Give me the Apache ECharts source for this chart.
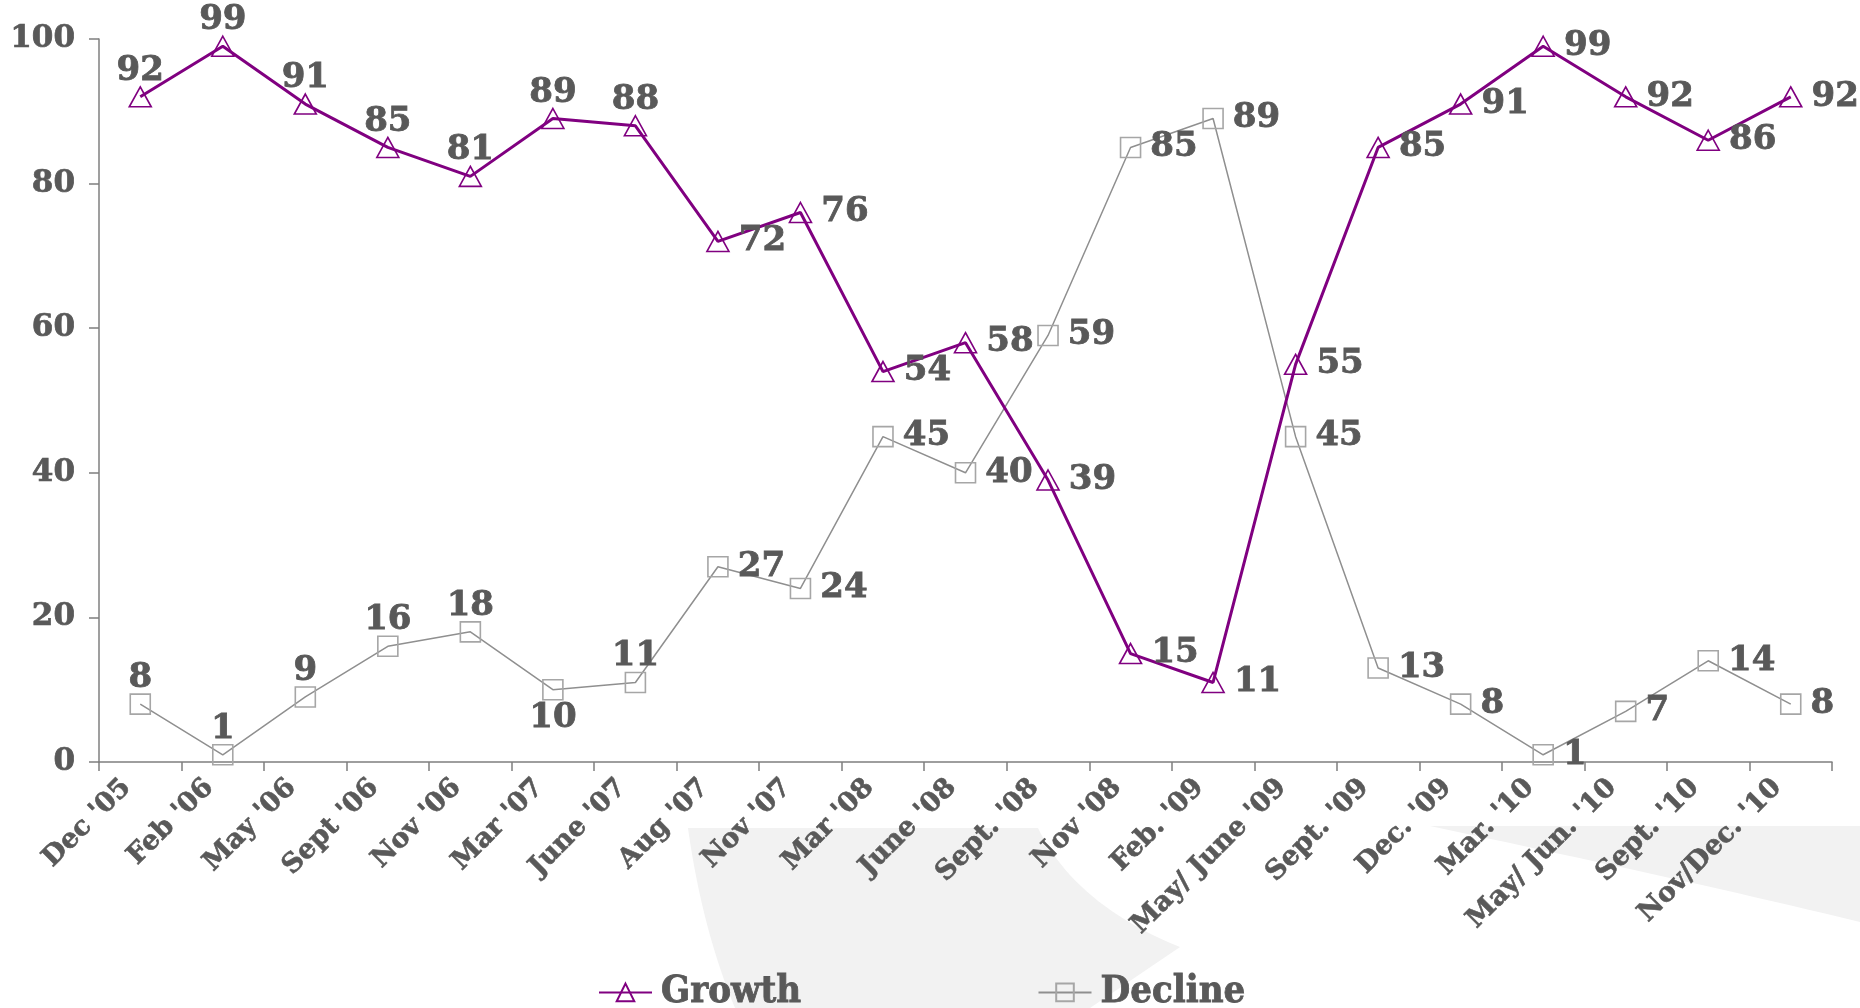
<!DOCTYPE html>
<html>
<head>
<meta charset="utf-8">
<title>Growth vs Decline</title>
<script src="https://cdn.jsdelivr.net/npm/echarts@6/dist/echarts.min.js"></script>
<style>
  html, body { margin: 0; padding: 0; background: #ffffff; }
  #chart { width: 1860px; height: 1008px; }
</style>
</head>
<body>
<div id="chart"></div>
<script>
// Survey periods
const periods = ["Dec '05", "Feb '06", "May '06", "Sept '06", "Nov '06", "Mar '07", "June '07",
  "Aug '07", "Nov '07", "Mar '08", "June '08", "Sept. '08", "Nov '08", "Feb. '09",
  "May/ June '09", "Sept. '09", "Dec. '09", "Mar. '10", "May/ Jun. '10", "Sept. '10", "Nov/Dec. '10"];

// Share of respondents expecting growth / decline (%)
const growth = [92, 99, 91, 85, 81, 89, 88, 72, 76, 54, 58, 39, 15, 11, 55, 85, 91, 99, 92, 86, 92];
const decline = [8, 1, 9, 16, 18, 10, 11, 27, 24, 45, 40, 59, 85, 89, 45, 13, 8, 1, 7, 14, 8];

// Value axis ticks
const yTicks = [0, 20, 40, 60, 80, 100];

const TEXT = '#595959';
const AXIS = '#7f7f7f';
const PURPLE = '#800080';
const GREY_LINE = '#8f8f8f';
const GREY_MARK = '#a6a6a6';
const LABEL_FONT = '"DejaVu Serif", "Liberation Serif", serif';

// Where each value label sits relative to its point
function growthLabelAt(i) { return i < 7 ? 'top' : 'right'; }
function declineLabelAt(i) {
  if (i === 5) return 'bottom';
  if (i < 7) return 'top';
  return 'right';
}

const labelDistance = { top: -2, bottom: 1, right: 9 };

function labelled(values, posFn) {
  return values.map((v, i) => {
    const pos = posFn(i);
    return { value: v, label: { position: pos, distance: labelDistance[pos] } };
  });
}

// sample a cubic Bezier into polygon points (for the background swoosh)
function bezier(p0, p1, p2, p3, n) {
  const pts = [];
  for (let k = 0; k <= n; k++) {
    const t = k / n, u = 1 - t;
    pts.push([
      u * u * u * p0[0] + 3 * u * u * t * p1[0] + 3 * u * t * t * p2[0] + t * t * t * p3[0],
      u * u * u * p0[1] + 3 * u * u * t * p1[1] + 3 * u * t * t * p2[1] + t * t * t * p3[1]
    ]);
  }
  return pts;
}

const swooshA = [[688, 828]]
  .concat(bezier([1038, 828], [1058, 870], [1100, 915], [1180, 947], 24))
  .concat([[1090, 1008]])
  .concat(bezier([735, 1008], [715, 960], [698, 900], [688, 828], 24));
const swooshB = [[1430, 826], [1860, 826], [1860, 922]]
  .concat(bezier([1860, 922], [1720, 888], [1580, 858], [1430, 826], 24));

const valueLabel = {
  show: true,
  color: TEXT,
  fontFamily: LABEL_FONT,
  fontWeight: 'bold',
  fontSize: 34,
  textBorderColor: TEXT,
  textBorderWidth: 0.8
};

const chart = echarts.init(document.getElementById('chart'), null, { renderer: 'canvas' });

chart.setOption({
  backgroundColor: '#ffffff',
  animation: false,
  // light decorative swoosh behind the period labels
  graphic: [
    { type: 'polygon', z: -10, silent: true, shape: { points: swooshA }, style: { fill: '#f2f2f2' } },
    { type: 'polygon', z: -10, silent: true, shape: { points: swooshB }, style: { fill: '#f2f2f2' } }
  ],
  grid: {
    left: 99,
    right: 28,
    top: 39,
    bottom: 246,
    containLabel: false
  },
  legend: {
    data: ['Growth', 'Decline'],
    left: 593,
    top: 968,
    itemWidth: 53,
    itemHeight: 22,
    itemGap: 236,
    textStyle: {
      color: TEXT,
      fontFamily: '"DejaVu Serif Condensed", "Liberation Serif", serif',
      fontWeight: 'bold',
      fontSize: 38,
      textBorderColor: TEXT,
      textBorderWidth: 0.8,
      padding: [0, 0, 0, 4]
    }
  },
  xAxis: {
    type: 'category',
    data: periods,
    boundaryGap: true,
    axisLine: { lineStyle: { color: AXIS, width: 1.5 } },
    axisTick: { show: true, alignWithLabel: false, length: 9, lineStyle: { color: AXIS, width: 1.5 } },
    axisLabel: {
      interval: 0,
      rotate: 45,
      margin: 8,
      color: TEXT,
      fontFamily: LABEL_FONT,
      fontWeight: 'bold',
      fontSize: 27,
      textBorderColor: TEXT,
      textBorderWidth: 0.6,
      padding: [6, 19, 0, 0]
    },
    splitLine: { show: false }
  },
  yAxis: {
    type: 'value',
    min: yTicks[0],
    max: yTicks[yTicks.length - 1],
    interval: yTicks[1] - yTicks[0],
    axisLine: { show: true, lineStyle: { color: AXIS, width: 1.5 } },
    axisTick: { show: true, length: 10, lineStyle: { color: AXIS, width: 1.5 } },
    axisLabel: {
      color: TEXT,
      fontFamily: LABEL_FONT,
      fontWeight: 'bold',
      fontSize: 31,
      textBorderColor: TEXT,
      textBorderWidth: 0.7,
      margin: 24
    },
    splitLine: { show: false }
  },
  series: [
    {
      name: 'Growth',
      type: 'line',
      data: labelled(growth, growthLabelAt),
      symbol: 'triangle',
      symbolSize: [22, 20],
      showAllSymbol: true,
      lineStyle: { color: PURPLE, width: 3 },
      itemStyle: { color: 'rgba(255,255,255,0)', borderColor: PURPLE, borderWidth: 1.6 },
      label: valueLabel,
      z: 3
    },
    {
      name: 'Decline',
      type: 'line',
      data: labelled(decline, declineLabelAt),
      symbol: 'rect',
      symbolSize: 20,
      showAllSymbol: true,
      lineStyle: { color: GREY_LINE, width: 1.5 },
      itemStyle: { color: 'rgba(255,255,255,0)', borderColor: GREY_MARK, borderWidth: 1.6 },
      label: valueLabel,
      z: 2
    }
  ]
});
</script>
</body>
</html>
